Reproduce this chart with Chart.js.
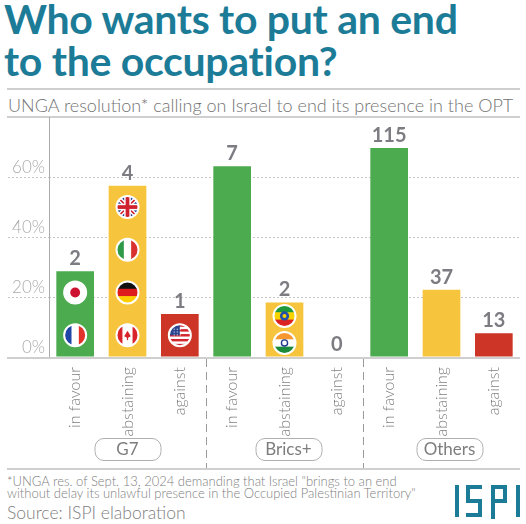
<!DOCTYPE html>
<html>
<head>
<meta charset="utf-8">
<script src="https://cdn.jsdelivr.net/npm/chart.js@4.4.1/dist/chart.umd.min.js"></script>
<style>
  body { margin: 0; background: #fff; }
  #page { position: relative; width: 526px; height: 524px; overflow: hidden; font-family: Lato, sans-serif; }
  #title { position: absolute; left: 4px; top: -2px; margin: 0; font-weight: 700; font-size: 41px; line-height: 42px; color: #1c7c98; letter-spacing: -0.3px; }
  .rule { position: absolute; left: 7px; width: 513px; height: 2px; background: #cfcfcf; }
  #subtitle { position: absolute; left: 8px; top: 94px; font-size: 18px; font-weight: 300; color: #737373; white-space: nowrap; }
  #chartbox { position: absolute; left: 0; top: 110px; width: 526px; height: 362px; }
  #note { position: absolute; left: 7px; top: 475px; font-size: 13px; line-height: 12px; font-weight: 300; color: #808080; white-space: nowrap; }
  #source { position: absolute; left: 7px; top: 502px; font-size: 17.5px; font-weight: 300; color: #808080; }
  #logo { position: absolute; left: 452px; top: 482px; }
</style>
</head>
<body>
<div id="page">
  <h1 id="title">Who wants to put an end<br>to the occupation?</h1>
  <div class="rule" style="top:88px"></div>
  <div id="subtitle">UNGA resolution* calling on Israel to end its presence in the OPT</div>
  <div class="rule" style="top:116px"></div>
  <div id="chartbox"><canvas id="chart"></canvas></div>
  <div id="note">*UNGA res. of Sept. 13, 2024 demanding that Israel "brings to an end<br>without delay its unlawful presence in the Occupied Palestinian Territory"</div>
  <div id="source">Source: ISPI elaboration</div>
  <svg id="logo" width="72" height="40" viewBox="0 0 72 40">
    <g fill="none" stroke="#1c7c98" stroke-width="4">
      <path d="M5 3 V35"/>
      <path d="M30 5 H16 V19 H28 V33 H14"/>
      <path d="M41 37 V5 H53 V19 H41"/>
      <path d="M66 3 V35"/>
    </g>
  </svg>
</div>
<script>
// categories and values
const categories = ['in favour', 'abstaining', 'against', 'in favour', 'abstaining', 'against', 'in favour', 'abstaining', 'against'];
const groups = ['G7', 'Brics+', 'Others'];
const shares = [28.6, 57.1, 14.3, 63.6, 18.2, 0, 69.7, 22.4, 7.9];   // % of group
const votes = [2, 4, 1, 7, 2, 0, 115, 37, 13];                       // countries
const yTicks = [0, 20, 40, 60];
const flags = [['fr', 'jp'], ['ca', 'de', 'it', 'uk'], ['us'], [], ['in', 'et'], [], [], [], []];

const GREEN = '#4cab4f', YELLOW = '#f6c53d', RED = '#cd3626';
const barColors = categories.map((c, i) => [GREEN, YELLOW, RED][i % 3]);
const GRID = '#c6c6c6';

function drawFlag(ctx, code, x, y, r) {
  ctx.save();
  ctx.beginPath();
  ctx.arc(x, y, r, 0, Math.PI * 2);
  ctx.clip();
  const L = x - r, T = y - r, W = 2 * r;
  function vstripes(cols, w) {
    let cx = L;
    cols.forEach((c, i) => { ctx.fillStyle = c; ctx.fillRect(cx, T, W * w[i] + 0.5, W); cx += W * w[i]; });
  }
  function hstripes(cols) {
    cols.forEach((c, i) => { ctx.fillStyle = c; ctx.fillRect(L, T + W * i / cols.length, W, W / cols.length + 0.5); });
  }
  if (code === 'fr') vstripes(['#1f45a6', '#fff', '#e1322b'], [1/3, 1/3, 1/3]);
  if (code === 'it') vstripes(['#2e9a48', '#fff', '#d8312f'], [1/3, 1/3, 1/3]);
  if (code === 'ca') {
    vstripes(['#d8232a', '#fff', '#d8232a'], [0.27, 0.46, 0.27]);
    ctx.fillStyle = '#d8232a';
    ctx.beginPath();
    ctx.moveTo(x, y - r * 0.4); ctx.lineTo(x + r * 0.3, y + r * 0.1); ctx.lineTo(x, y + r * 0.25); ctx.lineTo(x - r * 0.3, y + r * 0.1);
    ctx.closePath(); ctx.fill();
    ctx.fillRect(x - 0.6, y, 1.2, r * 0.45);
  }
  if (code === 'de') hstripes(['#111', '#dd1d1d', '#ffce00']);
  if (code === 'in') {
    hstripes(['#f6982f', '#fff', '#1c8a3b']);
    ctx.strokeStyle = '#1f3c8f'; ctx.lineWidth = 1.4;
    ctx.beginPath(); ctx.arc(x, y, r * 0.28, 0, Math.PI * 2); ctx.stroke();
  }
  if (code === 'et') {
    hstripes(['#1e9a3c', '#f5d400', '#dd2222']);
    ctx.fillStyle = '#2552a8';
    ctx.beginPath(); ctx.arc(x, y, r * 0.42, 0, Math.PI * 2); ctx.fill();
    ctx.fillStyle = '#f5d400';
    ctx.beginPath(); ctx.arc(x, y, r * 0.18, 0, Math.PI * 2); ctx.fill();
  }
  if (code === 'jp') {
    ctx.fillStyle = '#fff'; ctx.fillRect(L, T, W, W);
    ctx.fillStyle = '#cc1230';
    ctx.beginPath(); ctx.arc(x, y, r * 0.45, 0, Math.PI * 2); ctx.fill();
  }
  if (code === 'uk') {
    ctx.fillStyle = '#243f92'; ctx.fillRect(L, T, W, W);
    ctx.lineCap = 'butt';
    [['#fff', r * 0.4], ['#d0222e', r * 0.15]].forEach(([c, w]) => {
      ctx.strokeStyle = c; ctx.lineWidth = w;
      ctx.beginPath(); ctx.moveTo(L, T); ctx.lineTo(L + W, T + W); ctx.moveTo(L + W, T); ctx.lineTo(L, T + W); ctx.stroke();
    });
    ctx.fillStyle = '#fff';
    ctx.fillRect(x - r * 0.3, T, r * 0.6, W); ctx.fillRect(L, y - r * 0.3, W, r * 0.6);
    ctx.fillStyle = '#d0222e';
    ctx.fillRect(x - r * 0.17, T, r * 0.34, W); ctx.fillRect(L, y - r * 0.17, W, r * 0.34);
  }
  if (code === 'us') {
    for (let i = 0; i < 9; i++) { ctx.fillStyle = i % 2 ? '#fff' : '#d22630'; ctx.fillRect(L, T + W * i / 9, W, W / 9 + 0.5); }
    ctx.fillStyle = '#2b4590'; ctx.fillRect(L, T, W * 0.5, W * 0.5);
    ctx.fillStyle = '#fff';
    for (let a = 0; a < 3; a++) for (let b = 0; b < 3; b++) ctx.fillRect(L + W * 0.22 + a * r * 0.28, T + W * 0.2 + b * r * 0.26, 1, 1);
  }
  ctx.restore();
  ctx.strokeStyle = '#fff'; ctx.lineWidth = 2;
  ctx.beginPath(); ctx.arc(x, y, r, 0, Math.PI * 2); ctx.stroke();
}

const decorations = {
  id: 'decorations',
  afterDraw(chart) {
    const ctx = chart.ctx, area = chart.chartArea, xs = chart.scales.x;
    ctx.save();
    // y axis line and baseline
    ctx.strokeStyle = '#ababab'; ctx.lineWidth = 1;
    ctx.beginPath(); ctx.moveTo(area.left + 0.5, area.top); ctx.lineTo(area.left + 0.5, area.bottom); ctx.stroke();
    ctx.strokeStyle = '#cfcfcf'; ctx.lineWidth = 2;
    ctx.beginPath(); ctx.moveTo(7, area.bottom + 1); ctx.lineTo(area.right, area.bottom + 1); ctx.stroke();
    // bottom rule
    const bottomY = chart.height - 3;
    ctx.beginPath(); ctx.moveTo(7, bottomY); ctx.lineTo(area.right, bottomY); ctx.stroke();
    // dashed separators between groups
    ctx.strokeStyle = '#9a9a9a'; ctx.lineWidth = 1; ctx.setLineDash([8, 5]);
    [2, 5].forEach(i => {
      const sx = Math.round((xs.getPixelForValue(i) + xs.getPixelForValue(i + 1)) / 2) + 0.5;
      ctx.beginPath(); ctx.moveTo(sx, area.bottom + 2); ctx.lineTo(sx, bottomY - 1); ctx.stroke();
    });
    ctx.setLineDash([]);
    // group boxes
    groups.forEach((g, gi) => {
      const cx = xs.getPixelForValue(gi * 3 + 1) + gi * 4;
      const w = 66, h = 22, cy = area.bottom + 92;
      ctx.strokeStyle = '#b0b0b0'; ctx.lineWidth = 1;
      ctx.beginPath(); ctx.roundRect(cx - w / 2 + 0.5, cy - h / 2 + 0.5, w, h, 9); ctx.stroke();
      ctx.fillStyle = '#7d7d7d'; ctx.font = '17px Lato'; ctx.textAlign = 'center'; ctx.textBaseline = 'middle';
      ctx.fillText(g, cx, cy + 1);
    });
    ctx.restore();
  },
  afterDatasetsDraw(chart) {
    const ctx = chart.ctx;
    const bars = chart.getDatasetMeta(0).data;
    ctx.save();
    bars.forEach((b, i) => {
      const h = b.base - b.y;
      flags[i].forEach((f, k) => drawFlag(ctx, f, b.x, b.base - h * (k + 0.5) / flags[i].length, 11));
      ctx.fillStyle = '#7c7c82'; ctx.font = 'bold 20px Lato'; ctx.textAlign = 'center'; ctx.textBaseline = 'alphabetic';
      ctx.fillText(String(votes[i]), b.x, b.y - 6);
    });
    ctx.restore();
  }
};

new Chart(document.getElementById('chart'), {
  type: 'bar',
  data: {
    labels: categories,
    datasets: [{
      data: shares,
      backgroundColor: barColors,
      borderWidth: 0,
      categoryPercentage: 1,
      barPercentage: 0.72
    }]
  },
  options: {
    responsive: true,
    maintainAspectRatio: false,
    animation: false,
    layout: { padding: { top: 7, right: 6, left: 0, bottom: 0 } },
    plugins: { legend: { display: false }, tooltip: { enabled: false } },
    scales: {
      x: {
        grid: { display: false },
        border: { display: false },
        ticks: { minRotation: 90, maxRotation: 90, padding: 2, color: '#808080', font: { family: 'Lato', size: 16, weight: 300 } },
        afterFit(s) { s.height = 115; }
      },
      y: {
        min: 0, max: 80,
        afterBuildTicks(s) { s.ticks = yTicks.map(v => ({ value: v })); },
        ticks: {
          callback: v => v + '%',
          padding: -37, labelOffset: -9,
          color: '#ababab', font: { family: 'Lato', size: 17, weight: 300 }
        },
        grid: {
          color: c => c.tick && c.tick.value === 0 ? 'rgba(0,0,0,0)' : GRID,
          tickColor: c => c.tick && c.tick.value === 0 ? 'rgba(0,0,0,0)' : GRID,
          tickLength: 41,
          tickBorderDash: [2, 2]
        },
        border: { display: false, dash: [2, 2] },
        afterFit(s) { s.width = 49; }
      }
    }
  },
  plugins: [decorations]
});
</script>
</body>
</html>
